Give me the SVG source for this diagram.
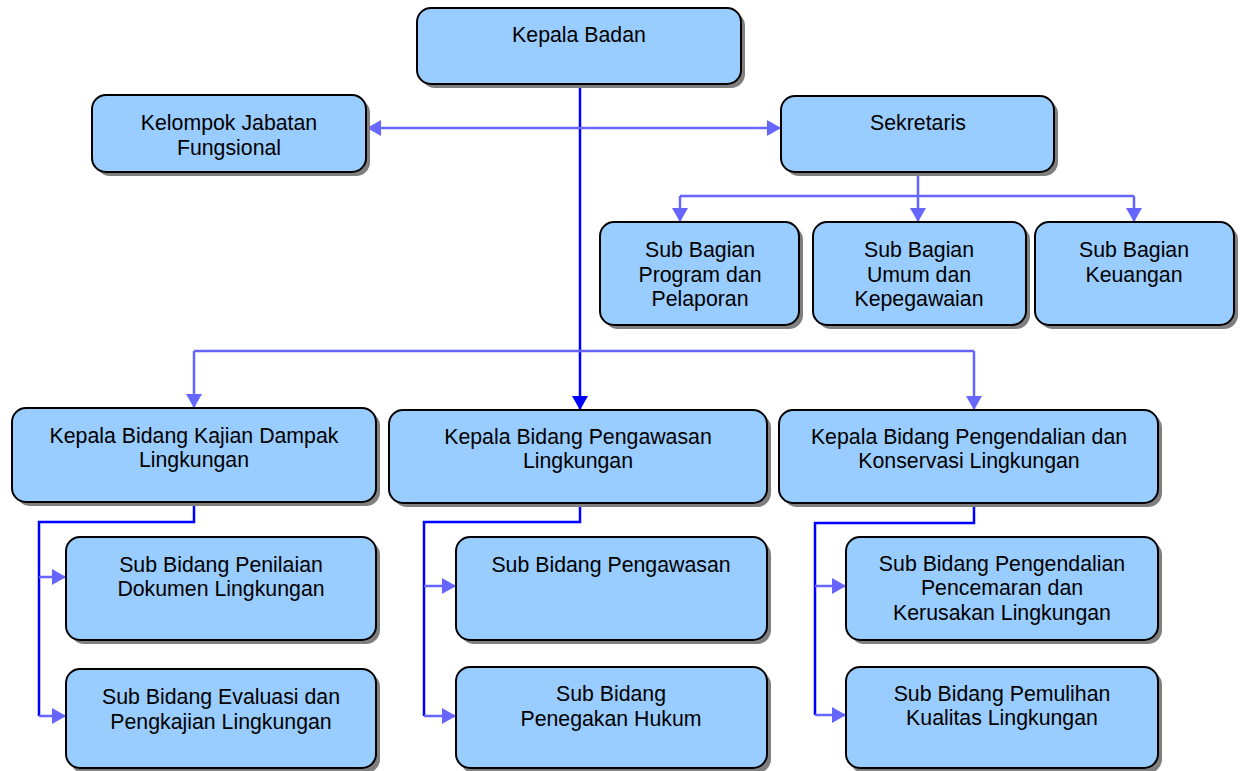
<svg xmlns="http://www.w3.org/2000/svg" width="1246" height="771" viewBox="0 0 1246 771">
<style>
.sh{fill:#7f7f7f}
.bx{fill:#99CCFF;stroke:#000;stroke-width:2}
.t{font-family:"Liberation Sans",Arial,sans-serif;font-size:21.3px;fill:#000;text-anchor:middle}
.lc{fill:none;stroke:#6666FF;stroke-width:2.5}
.dc{fill:none;stroke:#0000FF;stroke-width:2.5}
</style>
<defs>
<marker id="al" markerUnits="userSpaceOnUse" markerWidth="14" markerHeight="16" refX="13" refY="8" orient="auto"><path d="M0,0 L14,8 L0,16 Z" fill="#6666FF"/></marker>
<marker id="alr" markerUnits="userSpaceOnUse" markerWidth="14" markerHeight="16" refX="13" refY="8" orient="auto-start-reverse"><path d="M0,0 L14,8 L0,16 Z" fill="#6666FF"/></marker>
<marker id="ad" markerUnits="userSpaceOnUse" markerWidth="14" markerHeight="16" refX="13" refY="8" orient="auto"><path d="M0,0 L14,8 L0,16 Z" fill="#0000FF"/></marker>
</defs>

<g id="connectors">
<path class="dc" d="M580,84 V409" marker-end="url(#ad)"/>
<path class="lc" d="M368,128 H780" marker-start="url(#alr)" marker-end="url(#alr)"/>
<path class="lc" d="M918,172 V196"/>
<path class="lc" d="M680,196 H1134"/>
<path class="lc" d="M680,196 V221" marker-end="url(#al)"/>
<path class="lc" d="M918,196 V221" marker-end="url(#al)"/>
<path class="lc" d="M1134,196 V221" marker-end="url(#al)"/>
<path class="lc" d="M194,351 H974"/>
<path class="lc" d="M194,351 V407" marker-end="url(#al)"/>
<path class="lc" d="M974,351 V409" marker-end="url(#al)"/>
<path class="dc" d="M194,502 V522 H39 V716"/>
<path class="lc" d="M39,577 H65" marker-end="url(#al)"/>
<path class="lc" d="M39,716 H65" marker-end="url(#al)"/>
<path class="dc" d="M580,503 V522 H424 V716"/>
<path class="lc" d="M424,586 H455" marker-end="url(#al)"/>
<path class="lc" d="M424,716 H455" marker-end="url(#al)"/>
<path class="dc" d="M974,503 V523 H815 V715"/>
<path class="lc" d="M815,586 H845" marker-end="url(#al)"/>
<path class="lc" d="M815,715 H845" marker-end="url(#al)"/>
</g>

<g id="kepala-badan">
<rect class="sh" x="421" y="12" width="324" height="76" rx="14"/>
<rect class="bx" x="417" y="8" width="324" height="76" rx="14"/>
<text class="t" x="579" y="42">Kepala Badan</text>
</g>

<g id="kelompok-jabatan">
<rect class="sh" x="96" y="99" width="274" height="77" rx="14"/>
<rect class="bx" x="92" y="95" width="274" height="77" rx="14"/>
<text class="t" x="229" y="130">Kelompok Jabatan</text>
<text class="t" x="229" y="155">Fungsional</text>
</g>

<g id="sekretaris">
<rect class="sh" x="785" y="100" width="273" height="76" rx="14"/>
<rect class="bx" x="781" y="96" width="273" height="76" rx="14"/>
<text class="t" x="918" y="130">Sekretaris</text>
</g>

<g id="sub-bagian-program">
<rect class="sh" x="604" y="226" width="199" height="103" rx="14"/>
<rect class="bx" x="600" y="222" width="199" height="103" rx="14"/>
<text class="t" x="700" y="257">Sub Bagian</text>
<text class="t" x="700" y="282">Program dan</text>
<text class="t" x="700" y="306">Pelaporan</text>
</g>

<g id="sub-bagian-umum">
<rect class="sh" x="817" y="226" width="213" height="103" rx="14"/>
<rect class="bx" x="813" y="222" width="213" height="103" rx="14"/>
<text class="t" x="919" y="257">Sub Bagian</text>
<text class="t" x="919" y="282">Umum dan</text>
<text class="t" x="919" y="306">Kepegawaian</text>
</g>

<g id="sub-bagian-keuangan">
<rect class="sh" x="1039" y="226" width="199" height="103" rx="14"/>
<rect class="bx" x="1035" y="222" width="199" height="103" rx="14"/>
<text class="t" x="1134" y="257">Sub Bagian</text>
<text class="t" x="1134" y="282">Keuangan</text>
</g>

<g id="kabid-kajian">
<rect class="sh" x="16" y="412" width="364" height="94" rx="14"/>
<rect class="bx" x="12" y="408" width="364" height="94" rx="14"/>
<text class="t" x="194" y="443">Kepala Bidang Kajian Dampak</text>
<text class="t" x="194" y="467">Lingkungan</text>
</g>

<g id="kabid-pengawasan">
<rect class="sh" x="393" y="414" width="378" height="93" rx="14"/>
<rect class="bx" x="389" y="410" width="378" height="93" rx="14"/>
<text class="t" x="578" y="444">Kepala Bidang Pengawasan</text>
<text class="t" x="578" y="468">Lingkungan</text>
</g>

<g id="kabid-pengendalian">
<rect class="sh" x="783" y="414" width="379" height="93" rx="14"/>
<rect class="bx" x="779" y="410" width="379" height="93" rx="14"/>
<text class="t" x="969" y="444">Kepala Bidang Pengendalian dan</text>
<text class="t" x="969" y="468">Konservasi Lingkungan</text>
</g>

<g id="sub-bidang-penilaian">
<rect class="sh" x="70" y="541" width="310" height="103" rx="14"/>
<rect class="bx" x="66" y="537" width="310" height="103" rx="14"/>
<text class="t" x="221" y="572">Sub Bidang Penilaian</text>
<text class="t" x="221" y="596">Dokumen Lingkungan</text>
</g>

<g id="sub-bidang-evaluasi">
<rect class="sh" x="70" y="673" width="310" height="100" rx="14"/>
<rect class="bx" x="66" y="669" width="310" height="99" rx="14"/>
<text class="t" x="221" y="704">Sub Bidang Evaluasi dan</text>
<text class="t" x="221" y="729">Pengkajian Lingkungan</text>
</g>

<g id="sub-bidang-pengawasan">
<rect class="sh" x="460" y="541" width="311" height="103" rx="14"/>
<rect class="bx" x="456" y="537" width="311" height="103" rx="14"/>
<text class="t" x="611" y="572">Sub Bidang Pengawasan</text>
</g>

<g id="sub-bidang-penegakan">
<rect class="sh" x="460" y="671" width="311" height="102" rx="14"/>
<rect class="bx" x="456" y="667" width="311" height="101" rx="14"/>
<text class="t" x="611" y="701">Sub Bidang</text>
<text class="t" x="611" y="726">Penegakan Hukum</text>
</g>

<g id="sub-bidang-pencemaran">
<rect class="sh" x="850" y="541" width="312" height="103" rx="14"/>
<rect class="bx" x="846" y="537" width="312" height="103" rx="14"/>
<text class="t" x="1002" y="571">Sub Bidang Pengendalian</text>
<text class="t" x="1002" y="595">Pencemaran dan</text>
<text class="t" x="1002" y="620">Kerusakan Lingkungan</text>
</g>

<g id="sub-bidang-pemulihan">
<rect class="sh" x="850" y="671" width="312" height="102" rx="14"/>
<rect class="bx" x="846" y="667" width="312" height="101" rx="14"/>
<text class="t" x="1002" y="701">Sub Bidang Pemulihan</text>
<text class="t" x="1002" y="725">Kualitas Lingkungan</text>
</g>
</svg>
